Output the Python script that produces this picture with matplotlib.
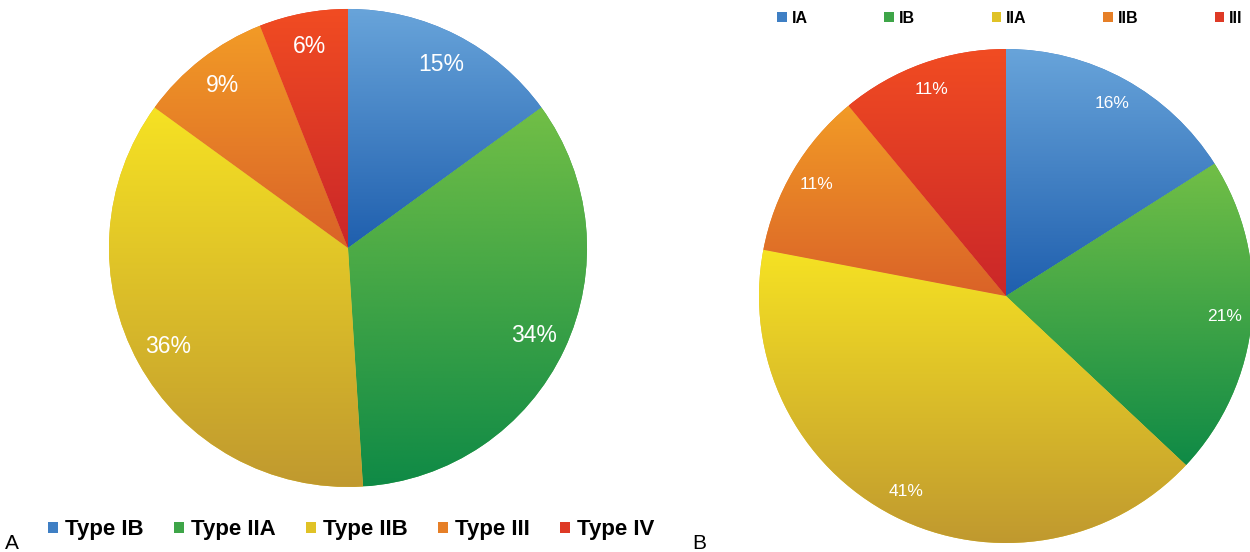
import matplotlib
matplotlib.use('Agg')
import matplotlib.pyplot as plt
import numpy as np
from matplotlib.colors import LinearSegmentedColormap
from matplotlib.patches import Patch

plt.rcParams['font.family'] = ['Liberation Sans', 'DejaVu Sans']

# panel A
labels_a = ['Type IB', 'Type IIA', 'Type IIB', 'Type III', 'Type IV']
values_a = [15, 34, 36, 9, 6]

# panel B
labels_b = ['IA', 'IB', 'IIA', 'IIB', 'III']
values_b = [16, 21, 41, 11, 11]

# (top colour, bottom colour) for each slice, same order in both panels
grad_colors = [
    ('#68a4da', '#1f5fae'),   # blue
    ('#72bf46', '#0f8a46'),   # green
    ('#f6e223', '#c0992f'),   # yellow
    ('#f29b26', '#da6228'),   # orange
    ('#f14c22', '#ca2629'),   # red
]
mid_colors = ['#3f7fc4', '#3ea548', '#e0c226', '#e67f27', '#de3a26']


def wedge_bounds(w):
    t = np.radians(np.linspace(w.theta1, w.theta2, 200))
    xs = np.concatenate([[0], w.r * np.cos(t)])
    ys = np.concatenate([[0], w.r * np.sin(t)])
    return xs.min(), xs.max(), ys.min(), ys.max()


def gradient_pie(ax, values, pct_dist, pct_size):
    wedges, _, autotexts = ax.pie(values, startangle=90, counterclock=False,
                                  colors=mid_colors, radius=1,
                                  autopct=lambda p: '%.0f%%' % p,
                                  pctdistance=pct_dist,
                                  wedgeprops=dict(linewidth=0))
    grad = np.linspace(0, 1, 256).reshape(-1, 1)
    for w, (top, bot) in zip(wedges, grad_colors):
        cmap = LinearSegmentedColormap.from_list('g', [bot, top])
        x0, x1, y0, y1 = wedge_bounds(w)
        im = ax.imshow(grad, cmap=cmap, origin='lower', aspect='auto',
                       extent=[x0, x1, y0, y1], interpolation='bicubic',
                       zorder=w.get_zorder() + 0.5)
        im.set_clip_path(w)
    for t in autotexts:
        t.set_color('white')
        t.set_fontsize(pct_size)
        t.set_zorder(5)
    ax.set_xlim(-1, 1)
    ax.set_ylim(-1, 1)
    ax.set_aspect('equal')
    ax.axis('off')


fig = plt.figure(figsize=(12.5, 5.52), dpi=100)

ax1 = fig.add_axes([0.0872, 0.1178, 0.3824, 0.866])
gradient_pie(ax1, values_a, 0.86, 16.5)

ax2 = fig.add_axes([0.6072, 0.0163, 0.3952, 0.8949])
gradient_pie(ax2, values_b, 0.89, 12.5)

handles_a = [Patch(facecolor=c, edgecolor='none') for c in mid_colors]
fig.legend(handles_a, labels_a, ncol=5, loc='center', bbox_to_anchor=(0.281, 0.04),
           frameon=False, prop=dict(weight='bold', size=16),
           handlelength=0.45, handleheight=0.45, handletextpad=0.32,
           columnspacing=1.35, borderpad=0, borderaxespad=0)

handles_b = [Patch(facecolor=c, edgecolor='none') for c in mid_colors]
fig.legend(handles_b, labels_b, ncol=5, loc='center', bbox_to_anchor=(0.808, 0.967),
           frameon=False, prop=dict(weight='bold', size=11.5),
           handlelength=0.6, handleheight=0.6, handletextpad=0.3,
           columnspacing=4.8, borderpad=0, borderaxespad=0)

fig.text(0.004, 0.005, 'A', fontsize=15)
fig.text(0.554, 0.005, 'B', fontsize=15)

fig.savefig('out.png', dpi=100)
